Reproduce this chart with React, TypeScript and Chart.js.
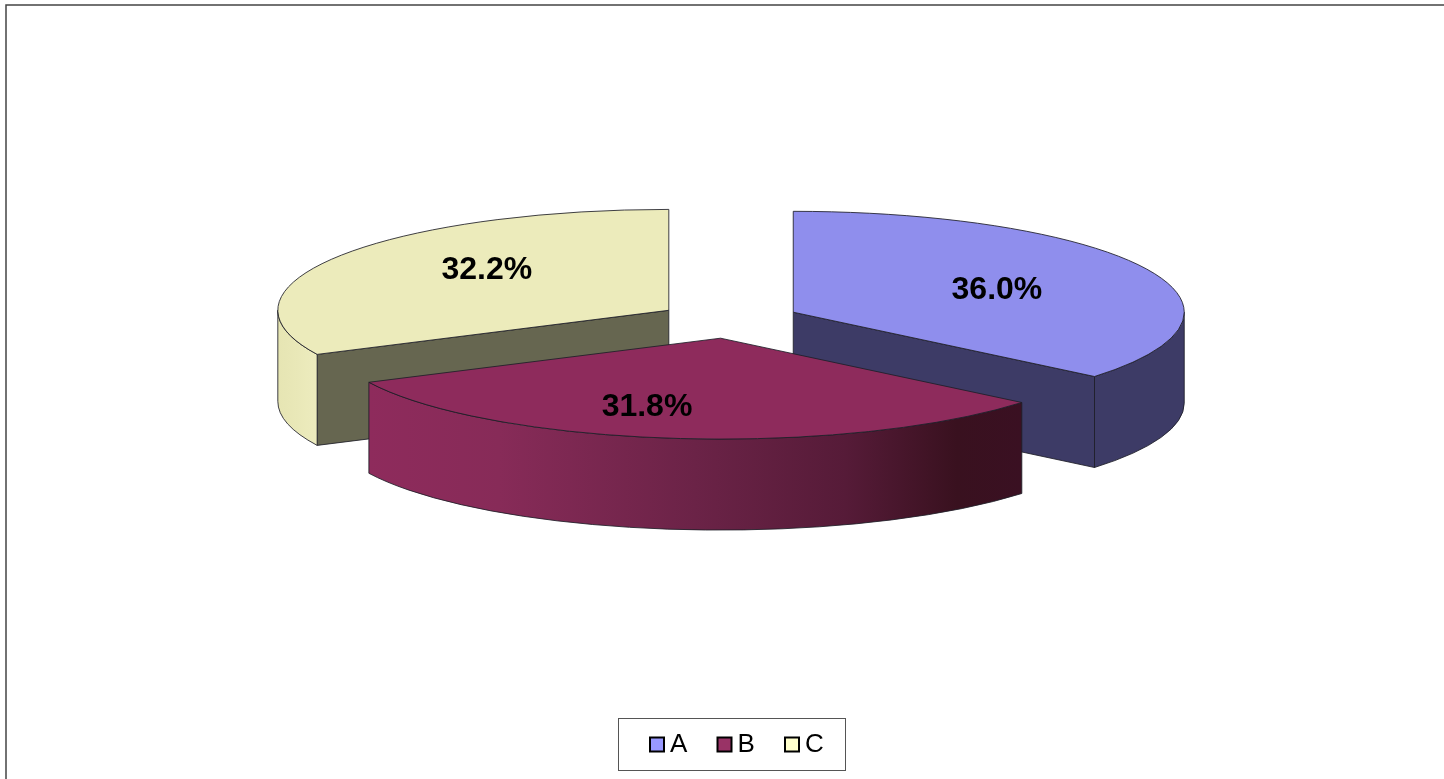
import React, { useEffect, useRef } from "react";
import { Chart, registerables } from "chart.js";

Chart.register(...registerables);

const categories = ["A", "B", "C"];
const shares = [36.0, 31.8, 32.2];
const topColors = ["#8f8eed", "#8e2b5c", "#ecebbb"];
const faceColors = ["#3d3b66", "#3a1022", "#666650"];
const wallStops = [0, 0.2, 0.5, 0.73, 0.9, 1];
const wallShades = [
  ["#3d3b66", "#3d3b66", "#3d3b66", "#3d3b66", "#3d3b66", "#3d3b66"],
  ["#8e2b5c", "#872b58", "#6b2347", "#561b38", "#39111f", "#3a1022"],
  ["#e6e5b3", "#e7e6b5", "#e9e8b8", "#ebeabb", "#ecebbd", "#ecebbd"],
];
const legendColors = ["#9999ff", "#993366", "#ffffcc"];

const CX = 729;
const CY = 320;
const RADIUS = 391;
const TILT = 0.258;
const DEPTH = 91;
const EXPLODE = 71;
const LINE = "rgba(30,30,40,0.85)";
const FONT = '"Liberation Sans", Arial, sans-serif';
const LABEL_FACTOR = 0.57;
const LABEL_NUDGE = [
  [2, 2],
  [-47, 12],
  [7, -10],
];

const pie3d = {
  id: "pie3d",
  beforeDatasetDraw(chart: any, args: any) {
    const ctx = chart.ctx;
    const arcs = args.meta.data;
    const order = arcs
      .map((a: any, i: number) => ({ a, i, mid: (a.startAngle + a.endAngle) / 2 }))
      .sort((p: any, q: any) => Math.sin(p.mid) - Math.sin(q.mid));

    for (const { a, i, mid } of order) {
      const ax = a.x + Math.cos(mid) * EXPLODE;
      const ay = a.y + Math.sin(mid) * EXPLODE * TILT;
      const r = a.outerRadius;
      const s = a.startAngle;
      const e = a.endAngle;
      const px = (t: number) => ax + r * Math.cos(t);
      const py = (t: number) => ay + r * TILT * Math.sin(t);
      ctx.save();
      ctx.lineWidth = 1;
      ctx.strokeStyle = LINE;
      ctx.lineJoin = "round";

      const face = (t: number) => {
        ctx.beginPath();
        ctx.moveTo(ax, ay);
        ctx.lineTo(px(t), py(t));
        ctx.lineTo(px(t), py(t) + DEPTH);
        ctx.lineTo(ax, ay + DEPTH);
        ctx.closePath();
        ctx.fillStyle = faceColors[i];
        ctx.fill();
        ctx.stroke();
      };
      if (Math.cos(s) < -1e-6) face(s);
      if (Math.cos(e) > 1e-6) face(e);

      // visible part of the outer wall: front half of the ellipse
      const a0 = Math.max(s, 0);
      const a1 = Math.min(e, Math.PI);
      if (a1 > a0) {
        const x0 = Math.min(px(a0), px(a1));
        const x1 = Math.max(px(a0), px(a1));
        const g = ctx.createLinearGradient(x0, 0, x1, 0);
        wallStops.forEach((p, k) => g.addColorStop(p, wallShades[i][k]));
        ctx.beginPath();
        ctx.ellipse(ax, ay, r, r * TILT, 0, a0, a1);
        ctx.lineTo(px(a1), py(a1) + DEPTH);
        ctx.ellipse(ax, ay + DEPTH, r, r * TILT, 0, a1, a0, true);
        ctx.closePath();
        ctx.fillStyle = g;
        ctx.fill();
        ctx.stroke();
      }

      // top surface: the library's own arc, squashed into perspective
      ctx.save();
      ctx.translate(ax, ay);
      ctx.scale(1, TILT);
      ctx.translate(-a.x, -a.y);
      a.draw(ctx);
      ctx.restore();

      ctx.beginPath();
      ctx.moveTo(ax, ay);
      ctx.ellipse(ax, ay, r, r * TILT, 0, s, e);
      ctx.closePath();
      ctx.stroke();
      ctx.restore();
    }
    return false;
  },
  afterDatasetsDraw(chart: any) {
    const ctx = chart.ctx;
    const arcs = chart.getDatasetMeta(0).data;
    ctx.save();
    ctx.fillStyle = "#000";
    ctx.font = `bold 32px ${FONT}`;
    ctx.textAlign = "center";
    ctx.textBaseline = "middle";
    arcs.forEach((a: any, i: number) => {
      const mid = (a.startAngle + a.endAngle) / 2;
      const ax = a.x + Math.cos(mid) * EXPLODE;
      const ay = a.y + Math.sin(mid) * EXPLODE * TILT;
      const lr = a.outerRadius * LABEL_FACTOR;
      ctx.fillText(
        `${shares[i].toFixed(1)}%`,
        ax + Math.cos(mid) * lr + LABEL_NUDGE[i][0],
        ay + Math.sin(mid) * lr * TILT + LABEL_NUDGE[i][1]
      );
    });
    ctx.restore();
  },
  afterDraw(chart: any) {
    const ctx = chart.ctx;
    ctx.save();
    // outer frame: only top and left edges are in view
    ctx.strokeStyle = "#444";
    ctx.lineWidth = 1.5;
    ctx.beginPath();
    ctx.moveTo(6, chart.height);
    ctx.lineTo(6, 5);
    ctx.lineTo(chart.width, 5);
    ctx.stroke();

    // legend
    ctx.lineWidth = 1;
    ctx.strokeStyle = "#555";
    ctx.fillStyle = "#fff";
    ctx.fillRect(618.5, 718.5, 227, 52);
    ctx.strokeRect(618.5, 718.5, 227, 52);
    ctx.font = `26px ${FONT}`;
    ctx.textAlign = "left";
    ctx.textBaseline = "middle";
    categories.forEach((c, i) => {
      const x = 650 + i * 67.5;
      ctx.fillStyle = legendColors[i];
      ctx.fillRect(x, 737.5, 14, 14);
      ctx.strokeStyle = "#000";
      ctx.lineWidth = 2;
      ctx.strokeRect(x, 737.5, 14, 14);
      ctx.fillStyle = "#000";
      ctx.fillText(c, x + 20, 745);
    });
    ctx.restore();
  },
};

export default function App() {
  const ref = useRef<HTMLCanvasElement | null>(null);
  useEffect(() => {
    document.body.style.margin = "0";
    document.body.style.background = "#fff";
    const chart = new Chart(ref.current as any, {
      type: "pie",
      data: {
        labels: categories,
        datasets: [
          {
            data: shares,
            backgroundColor: topColors,
            borderWidth: 0,
          },
        ],
      },
      options: {
        animation: false,
        responsive: false,
        devicePixelRatio: 1,
        radius: RADIUS,
        events: [],
        layout: {
          padding: {
            left: CX * 2 - 1444,
            right: 0,
            top: 0,
            bottom: 779 - CY * 2,
          },
        },
        plugins: {
          legend: { display: false },
          tooltip: { enabled: false },
        },
      } as any,
      plugins: [pie3d as any],
    });
    return () => chart.destroy();
  }, []);
  return (
    <canvas
      ref={ref}
      width={1444}
      height={779}
      style={{ display: "block", width: 1444, height: 779 }}
    />
  );
}
